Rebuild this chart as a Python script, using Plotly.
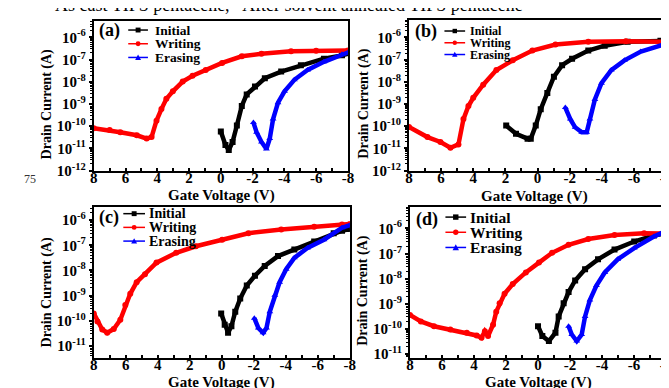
import numpy as np
import plotly.graph_objects as go

W, H = 669, 388
FONT = "Liberation Serif"

# ---------------- data (Vg in V, log10 of drain current in A) ----------------
a_init_v = [0.0, -0.29, -0.5, -0.74, -1.01, -1.32, -1.63, -2.15, -2.77, -3.8, -5.04, -6.49, -7.63, -8.0]
a_init_logi = [-10.24, -10.85, -11.07, -10.71, -9.97, -9.09, -8.57, -8.21, -7.84, -7.54, -7.25, -6.96, -6.81, -6.72]
a_writ_v = [8.0, 7.0, 6.33, 5.29, 4.67, 4.36, 4.05, 3.74, 3.43, 3.02, 2.4, 1.78, 0.95, -0.08, -1.32, -2.56, -4.42, -6.0, -8.0]
a_writ_logi = [-10.09, -10.17, -10.27, -10.41, -10.56, -10.49, -9.75, -9.23, -8.77, -8.43, -7.99, -7.73, -7.47, -7.15, -6.85, -6.74, -6.63, -6.6, -6.59]
a_eras_v = [-2.05, -2.25, -2.56, -2.87, -3.08, -3.29, -3.6, -4.01, -4.63, -5.46, -6.49, -7.63, -8.0]
a_eras_logi = [-9.83, -10.27, -10.71, -11.03, -10.56, -9.68, -8.94, -8.43, -7.91, -7.47, -7.1, -6.76, -6.68]

b_init_v = [1.95, 1.34, 0.62, 0.42, 0.11, -0.2, -0.61, -1.02, -1.53, -2.15, -3.16, -4.18, -5.61, -7.65, -8.0]
b_init_logi = [-9.97, -10.34, -10.56, -10.56, -9.97, -9.23, -8.5, -7.77, -7.25, -6.96, -6.59, -6.37, -6.19, -6.15, -6.15]
b_writ_v = [8.0, 6.85, 6.04, 5.42, 4.92, 4.61, 4.3, 4.0, 3.38, 2.56, 1.54, 0.32, -1.12, -3.16, -5.5, -8.0]
b_writ_logi = [-10.03, -10.49, -10.71, -10.97, -10.82, -9.68, -9.09, -8.72, -8.13, -7.47, -7.03, -6.59, -6.32, -6.19, -6.17, -6.19]
b_eras_v = [-1.73, -2.04, -2.34, -2.75, -3.06, -3.26, -3.57, -3.98, -4.59, -5.41, -6.43, -7.86, -8.0]
b_eras_logi = [-9.16, -9.68, -10.05, -10.27, -10.27, -9.68, -8.79, -8.06, -7.47, -7.03, -6.63, -6.32, -6.3]

c_init_v = [0.04, -0.18, -0.39, -0.6, -0.84, -1.15, -1.56, -2.07, -2.68, -3.51, -4.53, -5.77, -6.99, -7.51, -8.0]
c_init_logi = [-9.71, -10.16, -10.48, -10.22, -9.64, -9.12, -8.6, -8.21, -7.82, -7.43, -7.17, -6.85, -6.52, -6.42, -6.35]
c_writ_v = [8.0, 7.77, 7.47, 7.16, 6.75, 6.34, 6.03, 5.72, 5.32, 4.8, 4.08, 2.85, 1.62, -0.02, -1.66, -3.71, -5.77, -7.51, -8.0]
c_writ_logi = [-9.71, -10.03, -10.35, -10.48, -10.33, -9.96, -9.38, -8.93, -8.47, -8.15, -7.69, -7.3, -7.04, -6.78, -6.52, -6.37, -6.26, -6.17, -6.15]
c_eras_v = [-2.03, -2.28, -2.58, -2.79, -3.0, -3.31, -3.61, -4.02, -4.53, -5.35, -6.38, -7.51, -8.0]
c_eras_logi = [-9.9, -10.29, -10.48, -10.29, -9.64, -8.99, -8.47, -7.95, -7.5, -7.11, -6.78, -6.3, -6.2]

d_init_v = [0.0, -0.27, -0.68, -1.09, -1.29, -1.6, -1.91, -2.32, -2.94, -3.75, -4.78, -6.01, -7.24, -8.0]
d_init_logi = [-9.89, -10.28, -10.48, -10.15, -9.5, -8.98, -8.53, -8.07, -7.62, -7.23, -6.84, -6.52, -6.28, -6.19]
d_writ_v = [8.0, 7.32, 6.5, 5.48, 4.45, 3.83, 3.53, 3.32, 3.12, 2.81, 2.61, 2.4, 2.09, 1.58, 0.76, -0.06, -0.88, -1.91, -3.14, -4.78, -6.63, -8.0]
d_writ_logi = [-9.44, -9.7, -9.89, -10.02, -10.15, -10.26, -10.35, -10.09, -10.28, -9.83, -9.31, -8.98, -8.6, -8.21, -7.75, -7.36, -6.97, -6.65, -6.42, -6.26, -6.19, -6.2]
d_eras_v = [-1.91, -2.11, -2.42, -2.73, -2.94, -3.24, -3.65, -4.17, -4.98, -6.01, -7.24, -8.0]
d_eras_logi = [-9.89, -10.22, -10.48, -10.22, -9.5, -8.85, -8.27, -7.75, -7.23, -6.78, -6.32, -6.1]

series_names = ["Initial", "Writing", "Erasing"]
x_tick_vals = [8, 6, 4, 2, 0, -2, -4, -6, -8]
x_tick_text = ["8", "6", "4", "2", "0", "-2", "-4", "-6", "-8"]
header_text = "As cast TIPS pentacene,   After solvent annealed TIPS pentacene"

# ---------------- styling ----------------
colors = ["#000000", "#ff0000", "#0000ff"]
symbols = ["square", "circle", "triangle-up"]

def fx(p):
    return p / W

def fy(p):
    return 1 - p / H

panels = [
    dict(label="(a)", data=[(a_init_v, a_init_logi), (a_writ_v, a_writ_logi), (a_eras_v, a_eras_logi)],
         xd=(83, 341), yd=(13, 166), yr=(-12, -5.25), ye=list(range(-12, -5)),
         leg=dict(x0=118, x1=138, tx=143, rows=(22.5, 36.5, 50.5), fs=13.5, ms=5),
         lab=(86, 23, 18), ytitle=(36, 98), xtitle=(213, 191)),
    dict(label="(b)", data=[(b_init_v, b_init_logi), (b_writ_v, b_writ_logi), (b_eras_v, b_eras_logi)],
         xd=(403, 664), yd=(12, 166), yr=(-12, -5.2), ye=list(range(-12, -5)),
         leg=dict(x0=439, x1=460, tx=463, rows=(23.5, 35.5, 47.5), fs=12, ms=4.5),
         lab=(407, 24, 18), ytitle=(357, 97), xtitle=(530, 192)),
    dict(label="(c)", data=[(c_init_v, c_init_logi), (c_writ_v, c_writ_logi), (c_eras_v, c_eras_logi)],
         xd=(83, 343), yd=(203, 357), yr=(-11.47, -5.47), ye=list(range(-11, -5)),
         leg=dict(x0=113, x1=135, tx=137, rows=(210, 224, 238), fs=14, ms=5),
         lab=(86, 214, 18), ytitle=(36, 290), xtitle=(213, 382)),
    dict(label="(d)", data=[(d_init_v, d_init_logi), (d_writ_v, d_writ_logi), (d_eras_v, d_eras_logi)],
         xd=(404, 664), yd=(203, 357), yr=(-11.14, -5.14), ye=list(range(-11, -5)),
         leg=dict(x0=440, x1=461, tx=463, rows=(213.5, 229, 244.5), fs=15.5, ms=5.5),
         lab=(408, 216, 18), ytitle=(356, 288), xtitle=(534, 382)),
]

fig = go.Figure()
shapes = []
annotations = []
layout_axes = {}

for i, p in enumerate(panels):
    n = i + 1
    xa = "x" if n == 1 else f"x{n}"
    ya = "y" if n == 1 else f"y{n}"
    for k, (v, logi) in enumerate(p["data"]):
        fig.add_trace(go.Scatter(
            x=v, y=[10.0 ** e for e in logi], xaxis=xa, yaxis=ya,
            mode="lines+markers", showlegend=False, name=series_names[k],
            line=dict(color=colors[k], width=4.5),
            marker=dict(symbol=symbols[k], size=6, color=colors[k]),
        ))
    minor_vals = [m * 10.0 ** e for e in range(p["ye"][0] - 1, p["ye"][-1] + 1) for m in range(2, 10)]
    layout_axes["xaxis" if n == 1 else f"xaxis{n}"] = dict(
        domain=[fx(p["xd"][0]), fx(p["xd"][1])], anchor=ya, range=[8, -8],
        tickmode="array", tickvals=x_tick_vals, ticktext=x_tick_text,
        ticks="inside", ticklen=3, tickwidth=1.5, tickcolor="black", ticklabelstandoff=-8,
        minor=dict(tickmode="array", tickvals=[7, 5, 3, 1, -1, -3, -5, -7], ticks="inside", ticklen=3, tickwidth=1.5, tickcolor="black"),
        showline=True, linecolor="black", linewidth=2, mirror=True, showgrid=False, zeroline=False,
        tickfont=dict(family=FONT, size=15, color="black", weight="bold"),
    )
    layout_axes["yaxis" if n == 1 else f"yaxis{n}"] = dict(
        domain=[fy(p["yd"][1]), fy(p["yd"][0])], anchor=xa, type="log", range=list(p["yr"]),
        tickmode="array", tickvals=[10.0 ** e for e in p["ye"]],
        ticktext=[f"10<sup>{e}</sup>" for e in p["ye"]],
        ticks="outside", ticklen=3, tickwidth=1.5, tickcolor="black",
        minor=dict(tickmode="array", tickvals=minor_vals, ticks="outside", ticklen=2, tickwidth=1, tickcolor="black"),
        showline=True, linecolor="black", linewidth=2, mirror=True, showgrid=False, zeroline=False,
        tickfont=dict(family=FONT, size=15, color="black", weight="bold"),
    )
    # manual legend
    L = p["leg"]
    for k in range(3):
        yy = fy(L["rows"][k])
        shapes.append(dict(type="line", xref="paper", yref="paper", x0=fx(L["x0"]), x1=fx(L["x1"]),
                           y0=yy, y1=yy, line=dict(color=colors[k], width=1.5)))
        cx = (L["x0"] + L["x1"]) / 2
        cy = L["rows"][k]
        s = L["ms"] / 2
        if k == 0:
            shapes.append(dict(type="rect", xref="paper", yref="paper", x0=fx(cx - s), x1=fx(cx + s),
                               y0=fy(cy + s), y1=fy(cy - s), fillcolor=colors[k], line=dict(width=0)))
        elif k == 1:
            shapes.append(dict(type="circle", xref="paper", yref="paper", x0=fx(cx - s), x1=fx(cx + s),
                               y0=fy(cy + s), y1=fy(cy - s), fillcolor=colors[k], line=dict(width=0)))
        else:
            path = f"M {fx(cx - s - 0.5)} {fy(cy + s)} L {fx(cx + s + 0.5)} {fy(cy + s)} L {fx(cx)} {fy(cy - s - 0.5)} Z"
            shapes.append(dict(type="path", xref="paper", yref="paper", path=path,
                               fillcolor=colors[k], line=dict(width=0)))
        annotations.append(dict(xref="paper", yref="paper", x=fx(L["tx"]), y=yy, xanchor="left", yanchor="middle",
                                text=series_names[k], showarrow=False,
                                font=dict(family=FONT, size=L["fs"], color="black", weight="bold")))
    lx, ly, lfs = p["lab"]
    annotations.append(dict(xref="paper", yref="paper", x=fx(lx), y=fy(ly), xanchor="left", yanchor="middle",
                            text=p["label"], showarrow=False,
                            font=dict(family=FONT, size=lfs, color="black", weight="bold")))
    tx, ty = p["ytitle"]
    annotations.append(dict(xref="paper", yref="paper", x=fx(tx), y=fy(ty), xanchor="center", yanchor="middle",
                            text="Drain Current (A)", textangle=-90, showarrow=False,
                            font=dict(family=FONT, size=14, color="black", weight="bold")))
    gx, gy = p["xtitle"]
    annotations.append(dict(xref="paper", yref="paper", x=fx(gx), y=fy(gy), xanchor="center", yanchor="middle",
                            text="Gate Voltage (V)", showarrow=False,
                            font=dict(family=FONT, size=15, color="black", weight="bold")))

annotations.append(dict(xref="paper", yref="paper", x=fx(42), y=fy(9.5), xanchor="left", yanchor="bottom",
                        text=header_text, showarrow=False,
                        font=dict(family=FONT, size=18, color="black")))
annotations.append(dict(xref="paper", yref="paper", x=fx(18.5), y=fy(175), xanchor="center", yanchor="middle",
                        text="75", showarrow=False, font=dict(family=FONT, size=12, color="#333333")))

fig.update_layout(
    width=W, height=H, margin=dict(l=0, r=0, t=0, b=0),
    paper_bgcolor="white", plot_bgcolor="white",
    showlegend=False, shapes=shapes, annotations=annotations,
    **layout_axes,
)

fig.write_html("out.html")
